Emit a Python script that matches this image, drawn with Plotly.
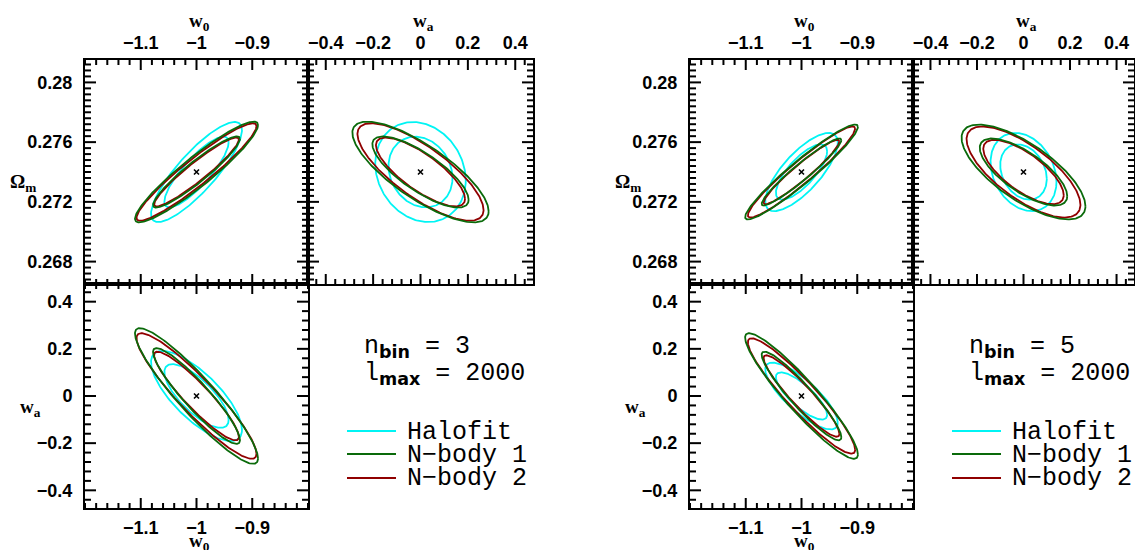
import numpy as np
import plotly.graph_objects as go

W, H = 1135, 550

# ---------------- data ----------------
MODELS = ["Halofit", "N\u2212body 1", "N\u2212body 2"]
FIDUCIAL_W0 = -1.0
FIDUCIAL_WA = 0.0
FIDUCIAL_OM = 0.274
DCHI2_LEVELS = [2.30, 4.61]

# n_bin = 3 : marginal 1-sigma errors and correlations (Halofit, N-body 1, N-body 2)
NB3_SIG_W0 = [0.038, 0.0514, 0.0501]
NB3_SIG_WA = [0.089, 0.134, 0.124]
NB3_SIG_OM = [0.00156, 0.00157, 0.00152]
NB3_RHO_W0_OM = [0.84, 0.93, 0.94]
NB3_RHO_WA_OM = [-0.17, -0.78, -0.78]
NB3_RHO_W0_WA = [-0.75, -0.92, -0.92]

# n_bin = 5
NB5_SIG_W0 = [0.0303, 0.0471, 0.0448]
NB5_SIG_WA = [0.066, 0.124, 0.114]
NB5_SIG_OM = [0.00122, 0.00148, 0.00142]
NB5_RHO_W0_OM = [0.75, 0.95, 0.95]
NB5_RHO_WA_OM = [-0.25, -0.72, -0.72]
NB5_RHO_W0_WA = [-0.80, -0.93, -0.93]

NBIN = [3, 5]
LMAX = [2000, 2000]

W0_TICKS = [-1.1, -1.0, -0.9]
W0_TICKTEXT = ["\u22121.1", "\u22121", "\u22120.9"]
WA_TICKS = [-0.4, -0.2, 0.0, 0.2, 0.4]
WA_TICKTEXT = ["\u22120.4", "\u22120.2", "0", "0.2", "0.4"]
OM_TICKS = [0.268, 0.272, 0.276, 0.28]
OM_TICKTEXT = ["0.268", "0.272", "0.276", "0.28"]
W0_MINOR_STEP = 0.02
WA_MINOR_STEP = 0.04
OM_MINOR_STEP = 0.0004

W0_RANGE = [-1.2, -0.8]
WA_RANGE = [-0.475, 0.475]
OM_RANGE = [0.2665, 0.2815]

# ---------------- styles ----------------
COLORS = ["#00f4f4", "#0a6a0a", "#900000"]
LINE_W = 1.8
TICKFONT = dict(family="Liberation Sans, Arial", size=18, color="black", weight="bold")
LABELFONT = dict(family="Liberation Serif", size=19, color="black")
TEXTFONT = dict(family="Liberation Mono", size=25, color="black")
MAJOR_LEN_X, MINOR_LEN_X = 10, 5    # px, ticks on horizontal edges
MAJOR_LEN_Y, MINOR_LEN_Y = 11, 6    # px, ticks on vertical edges

# layout in pixels
TRI_X = [(85, 308, 533), (690, 913, 1134)]
ROW_Y = (60, 284, 508)


def px_x(p):
    return p / W


def px_y(p):
    return 1 - p / H


def ellipse(cx, cy, sx, sy, rho, level, n=240):
    t = np.linspace(0, 2 * np.pi, n)
    r = np.sqrt(level)
    x = cx + r * sx * np.cos(t)
    y = cy + r * sy * (rho * np.cos(t) + np.sqrt(1 - rho ** 2) * np.sin(t))
    return x, y


def minor_vals(rng_, step, majors):
    k0 = int(np.ceil(rng_[0] / step - 1e-9))
    k1 = int(np.floor(rng_[1] / step + 1e-9))
    vals = [round(k * step, 6) for k in range(k0, k1 + 1)]
    return [v for v in vals if all(abs(v - m) > step / 10 for m in majors)]


fig = go.Figure()

sets = [
    (NB3_SIG_W0, NB3_SIG_WA, NB3_SIG_OM, NB3_RHO_W0_OM, NB3_RHO_WA_OM, NB3_RHO_W0_WA),
    (NB5_SIG_W0, NB5_SIG_WA, NB5_SIG_OM, NB5_RHO_W0_OM, NB5_RHO_WA_OM, NB5_RHO_W0_WA),
]

draw_order = [0, 2, 1]
layout_axes = {}
annotations = []
shapes = []

rng = {"w0": W0_RANGE, "wa": WA_RANGE, "om": OM_RANGE}
tv = {"w0": W0_TICKS, "wa": WA_TICKS, "om": OM_TICKS}
tt = {"w0": W0_TICKTEXT, "wa": WA_TICKTEXT, "om": OM_TICKTEXT}
mdt = {"w0": W0_MINOR_STEP, "wa": WA_MINOR_STEP, "om": OM_MINOR_STEP}


def axis_cfg(dom, key):
    return dict(domain=dom, range=rng[key], tickmode="array", tickvals=tv[key], ticktext=tt[key],
                showline=True, linecolor="black", linewidth=2, mirror=True, ticks="",
                showgrid=False, zeroline=False, tickfont=TICKFONT, automargin=False)


def tick_trace(xkey, ykey, wpx, hpx, xa, ya):
    """Inward tick marks on all four edges of a panel, built from the tick lists."""
    xr, yr = rng[xkey], rng[ykey]
    ux = (xr[1] - xr[0]) / wpx   # data units per pixel
    uy = (yr[1] - yr[0]) / hpx
    xs, ys = [], []
    xmaj, ymaj = tv[xkey], tv[ykey]
    for vals, ln in ((xmaj, MAJOR_LEN_X), (minor_vals(xr, mdt[xkey], xmaj), MINOR_LEN_X)):
        for v in vals:
            xs += [v, v, None, v, v, None]
            ys += [yr[0], yr[0] + ln * uy, None, yr[1], yr[1] - ln * uy, None]
    for vals, ln in ((ymaj, MAJOR_LEN_Y), (minor_vals(yr, mdt[ykey], ymaj), MINOR_LEN_Y)):
        for v in vals:
            ys += [v, v, None, v, v, None]
            xs += [xr[0], xr[0] + ln * ux, None, xr[1], xr[1] - ln * ux, None]
    return go.Scatter(x=xs, y=ys, mode="lines", xaxis=xa, yaxis=ya, showlegend=False,
                      hoverinfo="skip", line=dict(color="black", width=2))


for k, (sw0, swa, som, r_w0om, r_waom, r_w0wa) in enumerate(sets):
    xl, xm, xr_ = TRI_X[k]
    yt, ym, yb = ROW_Y
    panels = [
        dict(dx=[xl, xm], dy=[yt, ym], xp="w0", yp="om"),
        dict(dx=[xm, xr_], dy=[yt, ym], xp="wa", yp="om"),
        dict(dx=[xl, xm], dy=[ym, yb], xp="w0", yp="wa"),
    ]
    sig = {"w0": sw0, "wa": swa, "om": som}
    cen = {"w0": FIDUCIAL_W0, "wa": FIDUCIAL_WA, "om": FIDUCIAL_OM}
    for p, pan in enumerate(panels):
        n = k * 3 + p + 1
        xa = "x" if n == 1 else f"x{n}"
        ya = "y" if n == 1 else f"y{n}"
        rhos = {("w0", "om"): r_w0om, ("wa", "om"): r_waom, ("w0", "wa"): r_w0wa}[(pan["xp"], pan["yp"])]
        for m in draw_order:
            for lev in DCHI2_LEVELS:
                ex, ey = ellipse(cen[pan["xp"]], cen[pan["yp"]], sig[pan["xp"]][m], sig[pan["yp"]][m], rhos[m], lev)
                fig.add_trace(go.Scatter(x=ex, y=ey, mode="lines", xaxis=xa, yaxis=ya,
                                         line=dict(color=COLORS[m], width=LINE_W),
                                         showlegend=False, hoverinfo="skip", name=MODELS[m]))
        fig.add_trace(go.Scatter(x=[cen[pan["xp"]]], y=[cen[pan["yp"]]], mode="markers",
                                 xaxis=xa, yaxis=ya, showlegend=False, hoverinfo="skip",
                                 marker=dict(symbol="x-thin", size=5, line=dict(color="black", width=1.6))))
        wpx = pan["dx"][1] - pan["dx"][0]
        hpx = pan["dy"][1] - pan["dy"][0]
        fig.add_trace(tick_trace(pan["xp"], pan["yp"], wpx, hpx, xa, ya))

        xdom = [px_x(pan["dx"][0]), px_x(pan["dx"][1])]
        ydom = [px_y(pan["dy"][1]), px_y(pan["dy"][0])]
        xcfg = axis_cfg(xdom, pan["xp"])
        ycfg = axis_cfg(ydom, pan["yp"])
        xcfg["anchor"] = ya
        ycfg["anchor"] = xa
        xcfg["side"] = "top" if p in (0, 1) else "bottom"
        xcfg["ticklabelstandoff"] = 2
        ycfg["ticklabelstandoff"] = 7
        if p == 1:
            ycfg["showticklabels"] = False
        layout_axes["xaxis" if n == 1 else f"xaxis{n}"] = xcfg
        layout_axes["yaxis" if n == 1 else f"yaxis{n}"] = ycfg

    # axis labels
    cx_l = (xl + xm) / 2
    cx_r = (xm + xr_) / 2
    lab = [
        ("<b>w<sub>0</sub></b>", cx_l + 3, 22, "center"),
        ("<b>w<sub>a</sub></b>", cx_r + 3, 22, "center"),
        ("<b>w<sub>0</sub></b>", cx_l + 3, 542, "center"),
        ("<b>\u03a9<sub>m</sub></b>", xl - 77, 183, "left"),
        ("<b>w<sub>a</sub></b>", xl - 67, 408, "left"),
    ]
    for txt, x, y, anc in lab:
        annotations.append(dict(text=txt, x=px_x(x), y=px_y(y), xref="paper", yref="paper",
                                xanchor=anc, yanchor="middle", showarrow=False, font=LABELFONT))

    # parameter text
    tx = xl + 277
    sub_style = "font-family:'DejaVu Sans';font-weight:bold"
    annotations.append(dict(text=f"n<sub><span style=\"{sub_style}\">bin</span></sub> = {NBIN[k]}",
                            x=px_x(tx), y=px_y(347), xref="paper", yref="paper",
                            xanchor="left", yanchor="middle", showarrow=False, font=TEXTFONT))
    annotations.append(dict(text=f"l<sub><span style=\"{sub_style}\">max</span></sub> = {LMAX[k]}",
                            x=px_x(tx), y=px_y(374), xref="paper", yref="paper",
                            xanchor="left", yanchor="middle", showarrow=False, font=TEXTFONT))
    # legend
    ly = [431, 454, 478]
    lx0 = xl + 262
    for m in range(3):
        shapes.append(dict(type="line", xref="paper", yref="paper",
                           x0=px_x(lx0), x1=px_x(lx0 + 49), y0=px_y(ly[m]), y1=px_y(ly[m]),
                           line=dict(color=COLORS[m], width=2)))
        annotations.append(dict(text=MODELS[m], x=px_x(lx0 + 58), y=px_y(ly[m] + 1),
                                xref="paper", yref="paper", xanchor="left", yanchor="middle",
                                showarrow=False, font=TEXTFONT))

fig.update_layout(width=W, height=H, margin=dict(l=0, r=0, t=0, b=0, autoexpand=False),
                  paper_bgcolor="white", plot_bgcolor="white", template="none",
                  annotations=annotations, shapes=shapes, showlegend=False, **layout_axes)

fig.write_html("out.html")
